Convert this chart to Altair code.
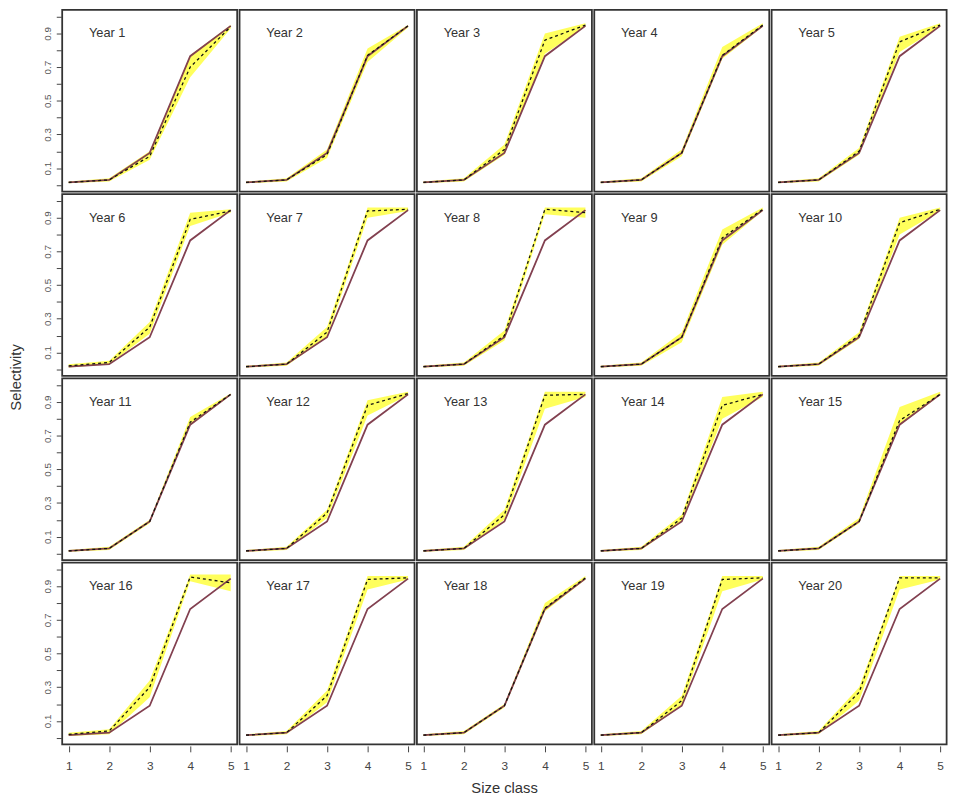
import altair as alt
import pandas as pd

sizes = [1, 2, 3, 4, 5]
years = list(range(1, 21))
true_sel = [0.015, 0.03, 0.19, 0.765, 0.945]

est = [
    [0.015, 0.03, 0.17, 0.70, 0.94],
    [0.015, 0.03, 0.18, 0.77, 0.945],
    [0.015, 0.03, 0.21, 0.86, 0.95],
    [0.015, 0.03, 0.19, 0.77, 0.95],
    [0.015, 0.03, 0.20, 0.85, 0.95],
    [0.02, 0.04, 0.25, 0.89, 0.94],
    [0.015, 0.03, 0.22, 0.94, 0.95],
    [0.015, 0.03, 0.20, 0.95, 0.93],
    [0.015, 0.03, 0.19, 0.78, 0.95],
    [0.015, 0.03, 0.20, 0.87, 0.95],
    [0.015, 0.03, 0.19, 0.78, 0.945],
    [0.015, 0.03, 0.24, 0.88, 0.95],
    [0.015, 0.03, 0.23, 0.94, 0.945],
    [0.015, 0.03, 0.21, 0.88, 0.945],
    [0.015, 0.03, 0.19, 0.79, 0.945],
    [0.02, 0.04, 0.30, 0.955, 0.92],
    [0.015, 0.03, 0.25, 0.94, 0.95],
    [0.015, 0.03, 0.19, 0.77, 0.95],
    [0.015, 0.03, 0.22, 0.94, 0.95],
    [0.015, 0.03, 0.27, 0.95, 0.95],
]
lower = [
    [0.01, 0.02, 0.15, 0.64, 0.93],
    [0.01, 0.02, 0.16, 0.73, 0.935],
    [0.01, 0.02, 0.18, 0.78, 0.94],
    [0.01, 0.02, 0.17, 0.75, 0.94],
    [0.01, 0.02, 0.18, 0.79, 0.94],
    [0.01, 0.03, 0.21, 0.85, 0.93],
    [0.01, 0.02, 0.19, 0.90, 0.94],
    [0.01, 0.02, 0.17, 0.92, 0.90],
    [0.01, 0.02, 0.16, 0.74, 0.94],
    [0.01, 0.02, 0.18, 0.80, 0.94],
    [0.01, 0.02, 0.18, 0.76, 0.94],
    [0.01, 0.02, 0.21, 0.82, 0.94],
    [0.01, 0.02, 0.20, 0.86, 0.93],
    [0.01, 0.02, 0.19, 0.80, 0.93],
    [0.01, 0.02, 0.18, 0.76, 0.94],
    [0.01, 0.02, 0.24, 0.93, 0.87],
    [0.01, 0.02, 0.21, 0.88, 0.94],
    [0.01, 0.02, 0.18, 0.75, 0.94],
    [0.01, 0.02, 0.19, 0.87, 0.94],
    [0.01, 0.02, 0.22, 0.88, 0.94],
]
upper = [
    [0.02, 0.04, 0.20, 0.77, 0.95],
    [0.02, 0.04, 0.21, 0.81, 0.95],
    [0.02, 0.04, 0.24, 0.90, 0.96],
    [0.02, 0.04, 0.21, 0.82, 0.96],
    [0.02, 0.04, 0.22, 0.88, 0.96],
    [0.03, 0.05, 0.28, 0.93, 0.95],
    [0.02, 0.04, 0.25, 0.96, 0.96],
    [0.02, 0.04, 0.23, 0.96, 0.96],
    [0.02, 0.04, 0.22, 0.83, 0.96],
    [0.02, 0.04, 0.22, 0.90, 0.96],
    [0.02, 0.04, 0.20, 0.81, 0.95],
    [0.02, 0.04, 0.26, 0.91, 0.96],
    [0.02, 0.04, 0.26, 0.96, 0.96],
    [0.02, 0.04, 0.23, 0.93, 0.96],
    [0.02, 0.04, 0.21, 0.87, 0.96],
    [0.03, 0.05, 0.34, 0.97, 0.97],
    [0.02, 0.04, 0.28, 0.96, 0.96],
    [0.02, 0.04, 0.20, 0.80, 0.96],
    [0.02, 0.04, 0.25, 0.96, 0.96],
    [0.02, 0.04, 0.30, 0.96, 0.96],
]
x_ticks = [1, 2, 3, 4, 5]
y_ticks = [0.0, 0.1, 0.2, 0.3, 0.4, 0.5, 0.6, 0.7, 0.8, 0.9, 1.0]

records = []
for i, yr in enumerate(years):
    for j, s in enumerate(sizes):
        records.append({
            "year": yr, "label": f"Year {yr}", "r": i // 5, "c": i % 5,
            "size": s, "true": true_sel[j], "est": est[i][j],
            "lo": lower[i][j], "hi": upper[i][j],
        })
df = pd.DataFrame(records)

FONT = "Liberation Sans"
xscale = alt.Scale(domain=[0.84, 5.16], nice=False, zero=False)
yscale = alt.Scale(domain=[-0.04, 1.04], nice=False, zero=False)
xaxis = alt.Axis(values=x_ticks, title=None, grid=False, domain=False, tickSize=6,
                 tickColor="#444", labelFontSize=12, labelColor="#444", labelPadding=9,
                 format="d", labelFont=FONT, labelOverlap=False)
yaxis = alt.Axis(values=y_ticks, title=None, grid=False, domain=False, tickSize=5,
                 tickColor="#444", labelFontSize=10, labelColor="#555", labelAngle=270,
                 labelPadding=4, labelFont=FONT, labelOverlap=False, labelFlush=False,
                 labelExpr="(round(datum.value * 10) % 2 == 1) ? format(datum.value, '.1f') : ''")

X = alt.X("size:Q", scale=xscale, axis=xaxis)

base = alt.Chart().properties(width=177.6, height=184.5)
band = base.mark_area(color="#ffff33", opacity=0.8).encode(
    x=X, y=alt.Y("lo:Q", scale=yscale, axis=yaxis), y2="hi:Q")
truel = base.mark_line(color="#824050", strokeWidth=1.8).encode(
    x=X, y=alt.Y("true:Q", scale=yscale, axis=yaxis))
estl = base.mark_line(color="#111111", strokeDash=[3, 3], strokeWidth=1.3).encode(
    x=X, y=alt.Y("est:Q", scale=yscale, axis=yaxis))
txt = base.mark_text(align="left", baseline="middle", fontSize=13, color="#333",
                     font=FONT).encode(
    x=alt.X(datum=1.5, scale=xscale, axis=xaxis),
    y=alt.Y(datum=0.9, scale=yscale, axis=yaxis),
    text="label:N").transform_filter("datum.size == 1")

chart = alt.layer(band, truel, estl, txt, data=df).facet(
    row=alt.Row("r:O", header=alt.Header(labels=False, title="Selectivity", titleFontSize=15,
                                         titleFontWeight="normal", titleColor="#333",
                                         titleFont=FONT, titlePadding=8, labelPadding=0)),
    column=alt.Column("c:O", header=alt.Header(labels=False, title="Size class", titleOrient="bottom",
                                               titleFontSize=15, titleFontWeight="normal",
                                               titleColor="#333", titleFont=FONT, titlePadding=0,
                                               labelPadding=0)),
    spacing=0,
).configure_view(stroke="#333", strokeWidth=1.8).properties(
    padding={"left": 0, "top": -5, "right": 0, "bottom": 0})

chart.save("out.html", embed_options={"renderer": "svg", "actions": False})
